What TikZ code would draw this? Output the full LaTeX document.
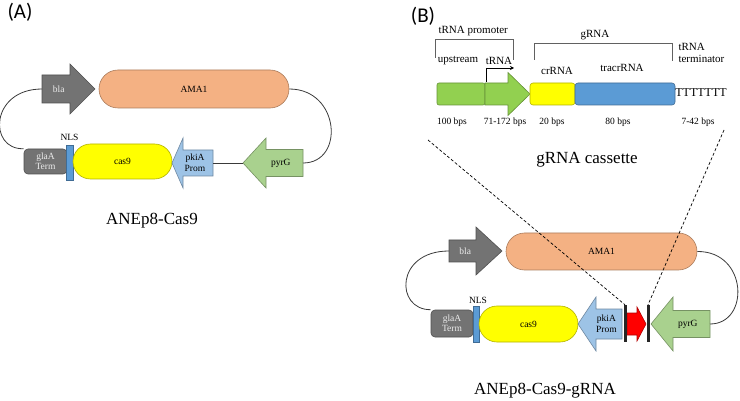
\documentclass[tikz,border=0pt]{standalone}
\usepackage{fontspec}
\setmainfont{Liberation Serif}
\newfontfamily\panelfont{Carlito}
\usetikzlibrary{arrows.meta}

\definecolor{genegray}{HTML}{737373}
\definecolor{lighttext}{HTML}{EDEDED}
\definecolor{amaorange}{HTML}{F4B183}
\definecolor{nlsblue}{HTML}{5B9BD5}
\definecolor{casyellow}{HTML}{FFFF00}
\definecolor{promblue}{HTML}{9DC3E6}
\definecolor{pyrgreen}{HTML}{A9D18E}
\definecolor{cassgreen}{HTML}{92D050}
\definecolor{gred}{HTML}{FF0000}
\definecolor{barblack}{HTML}{262626}
\definecolor{darkline}{HTML}{3A3A3A}

% gene arrow: name, colour, tail x, neck x, tip x, y, body half, head half, label
\newcommand{\genearrow}[9]{%
  \draw[gene=#2] (#3,#6-#7) -- (#4,#6-#7) -- (#4,#6-#8) -- (#5,#6)
    -- (#4,#6+#8) -- (#4,#6+#7) -- (#3,#6+#7) -- cycle;
  \coordinate (#1-tail) at (#3,#6);
  \coordinate (#1-tip) at (#5,#6);
  \node[align=center] (#1) at ({0.4*#3+0.6*#4},#6) {#9};
}

\begin{document}
\begin{tikzpicture}[x=1pt,y=-1pt,
  every node/.style={font=\fontsize{9.5}{10.5}\selectfont},
  gene/.style={draw=#1!70!black,fill=#1,line width=0.6pt},
  box/.style={gene=#1,inner sep=0pt,rounded corners=4pt},
  backbone/.style={draw=darkline,line width=0.8pt},
  bracket/.style={draw=darkline!80,line width=0.6pt},
  bar/.style={fill=barblack,inner sep=0pt,minimum width=3pt,minimum height=37pt},
  cassette/.style={font=\fontsize{11}{12.5}\selectfont},
  title/.style={font=\fontsize{17}{20}\selectfont},
  panel/.style={font=\panelfont\fontsize{21}{24}\selectfont}]
\useasboundingbox (0,0) rectangle (740,401);

% (A) ANEp8-Cas9
\node[panel] (panelA) at (20,12) {(A)};
\genearrow{blaA}{genegray}{42}{70}{95}{89}{14}{25}{\color{lighttext}bla}
\node[box=amaorange,rounded corners=19pt,minimum width=190pt,minimum height=38pt] (ama1A) at (194,89) {AMA1};
\node[box=genegray,minimum width=43pt,minimum height=25pt,align=center,text=lighttext] (glaaA) at (45.5,161.5) {glaA\\Term};
\node[gene=nlsblue,inner sep=0pt,minimum width=7pt,minimum height=35pt] (nlsA) at (69.5,162.5) {};
\node (nlslabelA) at (69.5,137) {NLS};
\node[box=casyellow,rounded corners=17.5pt,minimum width=99pt,minimum height=35pt] (cas9A) at (122.5,161.5) {cas9};
\genearrow{pkiaA}{promblue}{213}{183}{172}{163}{13}{25}{pkiA\\Prom}
\genearrow{pyrgA}{pyrgreen}{303}{266}{243}{163}{13.5}{25}{pyrG}
\draw[backbone] (pkiaA-tail) -- (pyrgA-tip);
\draw[backbone] (blaA-tail) .. controls (-10,89) and (-12,150) .. (glaaA.north west);
\draw[backbone] (ama1A.east) .. controls (340,89) and (345,163) .. (pyrgA-tail);
\node[title] (nameA) at (152,221) {ANEp8-Cas9};

% (B) gRNA cassette
\node[panel] (panelB) at (423,16) {(B)};
\node[box=cassgreen,rounded corners=2pt,minimum width=48pt,minimum height=22pt] (upstream) at (461,94) {};
\genearrow{trna}{cassgreen}{485}{508}{530}{94}{11}{21.5}{}
\node[box=casyellow,rounded corners=3pt,minimum width=45pt,minimum height=22pt] (crrna) at (552.5,94) {};
\node[box=nlsblue,rounded corners=3pt,minimum width=100pt,minimum height=22pt] (tracr) at (625,94) {};
\node[font=\fontsize{12}{14}\selectfont] (polyt) at (701,93) {TTTTTTT};
\draw[bracket] (435,58) -- (435,39) -- (513,39) -- (513,60);
\draw[bracket] (534,60) -- (534,43) -- (672,43) -- (672,61);
\coordinate (tss) at (486,82);
\draw[line width=0.6pt,-{Stealth[length=4pt,width=4pt]}] (tss) |- (514,68);
\node[cassette,anchor=west] (promlabel) at (435,31) {tRNA promoter};
\node[cassette] (uplabel) at (458,61) {upstream};
\node[cassette] (trnalabel) at (499,61) {tRNA};
\node[cassette] (grnalabel) at (595,35) {gRNA};
\node[cassette,anchor=west,align=left] (termlabel) at (675,53) {tRNA\\terminator};
\node[cassette] (crlabel) at (557,71) {crRNA};
\node[cassette] (tracrlabel) at (622,68) {tracrRNA};
\node (bps1) at (452,122) {100 bps};
\node (bps2) at (505,122) {71-172 bps};
\node (bps3) at (552,122) {20 bps};
\node (bps4) at (618,122) {80 bps};
\node (bps5) at (698,122) {7-42 bps};
\node[title] (cassname) at (587,160) {gRNA cassette};

% (B) ANEp8-Cas9-gRNA
\genearrow{blaB}{genegray}{449}{476}{502}{251}{11}{24}{\color{lighttext}bla}
\node[box=amaorange,rounded corners=18.5pt,minimum width=191pt,minimum height=37pt] (ama1B) at (601.5,251.5) {AMA1};
\node[box=genegray,minimum width=42pt,minimum height=27pt,align=center,text=lighttext] (glaaB) at (452,323.5) {glaA\\Term};
\node[gene=nlsblue,inner sep=0pt,minimum width=6pt,minimum height=36pt] (nlsB) at (476,324) {};
\node (nlslabelB) at (478,300) {NLS};
\node[box=casyellow,rounded corners=18pt,minimum width=99pt,minimum height=36pt] (cas9B) at (528.5,324) {cas9};
\genearrow{pkiaB}{promblue}{622}{596}{578}{324}{15}{27}{pkiA\\Prom}
\genearrow{grna}{gred}{627}{637}{646}{324}{11}{17}{}
\node[bar] (bar1) at (625,323.5) {};
\node[bar] (bar2) at (648,323.5) {};
\genearrow{pyrgB}{pyrgreen}{710}{673}{651}{324}{13.5}{27}{pyrG}
\draw[backbone] (blaB-tail) .. controls (395,251) and (395,310) .. (glaaB.north west);
\draw[backbone] (ama1B.east) .. controls (748,251) and (750,324) .. (pyrgB-tail);
\coordinate (zoomL) at (428,140);
\coordinate (zoomR) at (724,130);
\draw[dash pattern=on 3pt off 2pt,line width=0.7pt] (zoomL) -- (bar1.north);
\draw[dash pattern=on 3pt off 2pt,line width=0.7pt] (zoomR) -- (bar2.north);
\node[title] (nameB) at (545,391) {ANEp8-Cas9-gRNA};
\end{tikzpicture}
\end{document}
